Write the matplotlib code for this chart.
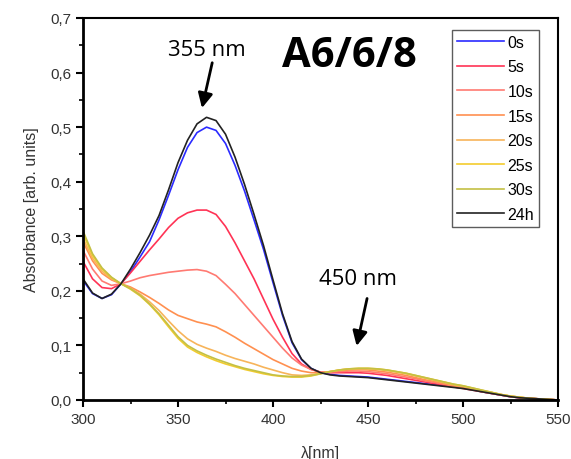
import numpy as np
import matplotlib.pyplot as plt
from matplotlib.ticker import MultipleLocator, FuncFormatter

wavelength = list(range(300, 555, 5))

labels = ['0s', '5s', '10s', '15s', '20s', '25s', '30s', '24h']
colors = ['#2b2bff', '#ff3355', '#ff7a72', '#ff9050', '#f7b45a', '#f3cc2e', '#c4c044', '#222222']

a_0s = [0.219, 0.195, 0.186, 0.193, 0.213, 0.235, 0.262, 0.290, 0.330, 0.375,
        0.422, 0.463, 0.490, 0.500, 0.494, 0.470, 0.430, 0.383, 0.330, 0.276,
        0.215, 0.155, 0.105, 0.074, 0.058, 0.050, 0.047, 0.045, 0.044, 0.043,
        0.042, 0.040, 0.038, 0.036, 0.034, 0.032, 0.030, 0.028, 0.026, 0.024,
        0.022, 0.019, 0.015, 0.012, 0.009, 0.006, 0.004, 0.003, 0.002, 0.001, 0.000]
a_5s = [0.254, 0.222, 0.206, 0.204, 0.213, 0.233, 0.254, 0.275, 0.295, 0.316,
        0.333, 0.343, 0.348, 0.348, 0.340, 0.318, 0.288, 0.255, 0.222, 0.185,
        0.148, 0.115, 0.085, 0.066, 0.056, 0.051, 0.050, 0.050, 0.050, 0.050,
        0.049, 0.047, 0.045, 0.042, 0.039, 0.036, 0.033, 0.030, 0.027, 0.024,
        0.021, 0.018, 0.015, 0.012, 0.009, 0.006, 0.004, 0.003, 0.002, 0.001, 0.000]
a_10s = [0.274, 0.240, 0.218, 0.210, 0.213, 0.218, 0.224, 0.228, 0.231, 0.234,
         0.236, 0.238, 0.239, 0.236, 0.228, 0.212, 0.195, 0.175, 0.155, 0.135,
         0.115, 0.095, 0.077, 0.064, 0.056, 0.051, 0.051, 0.052, 0.053, 0.053,
         0.052, 0.050, 0.048, 0.045, 0.042, 0.039, 0.035, 0.032, 0.029, 0.025,
         0.022, 0.019, 0.015, 0.012, 0.009, 0.006, 0.004, 0.003, 0.002, 0.001, 0.000]
a_15s = [0.290, 0.255, 0.232, 0.220, 0.213, 0.207, 0.198, 0.188, 0.177, 0.165,
         0.155, 0.149, 0.143, 0.139, 0.134, 0.125, 0.115, 0.104, 0.094, 0.084,
         0.074, 0.066, 0.058, 0.053, 0.050, 0.050, 0.052, 0.054, 0.055, 0.056,
         0.055, 0.053, 0.051, 0.048, 0.045, 0.041, 0.037, 0.034, 0.030, 0.026,
         0.023, 0.020, 0.016, 0.013, 0.010, 0.007, 0.005, 0.003, 0.002, 0.001, 0.000]
a_20s = [0.296, 0.260, 0.236, 0.222, 0.213, 0.205, 0.194, 0.180, 0.164, 0.145,
         0.127, 0.112, 0.102, 0.095, 0.089, 0.082, 0.076, 0.071, 0.066, 0.060,
         0.055, 0.050, 0.046, 0.045, 0.046, 0.049, 0.052, 0.055, 0.057, 0.057,
         0.057, 0.056, 0.054, 0.051, 0.048, 0.044, 0.040, 0.036, 0.032, 0.028,
         0.025, 0.021, 0.017, 0.014, 0.010, 0.007, 0.005, 0.003, 0.002, 0.001, 0.000]
a_25s = [0.305, 0.265, 0.240, 0.224, 0.213, 0.203, 0.191, 0.175, 0.156, 0.134,
         0.113, 0.097, 0.087, 0.079, 0.072, 0.066, 0.061, 0.056, 0.052, 0.048,
         0.045, 0.043, 0.042, 0.042, 0.044, 0.048, 0.052, 0.055, 0.057, 0.058,
         0.058, 0.057, 0.055, 0.052, 0.049, 0.045, 0.041, 0.037, 0.033, 0.029,
         0.026, 0.022, 0.018, 0.014, 0.010, 0.007, 0.005, 0.003, 0.002, 0.001, 0.000]
a_30s = [0.310, 0.268, 0.242, 0.225, 0.213, 0.204, 0.192, 0.176, 0.158, 0.137,
         0.116, 0.100, 0.090, 0.082, 0.075, 0.069, 0.063, 0.058, 0.054, 0.050,
         0.046, 0.044, 0.043, 0.043, 0.045, 0.048, 0.052, 0.055, 0.057, 0.058,
         0.058, 0.057, 0.055, 0.052, 0.049, 0.045, 0.041, 0.037, 0.033, 0.029,
         0.026, 0.022, 0.018, 0.014, 0.010, 0.007, 0.005, 0.003, 0.002, 0.001, 0.000]
a_24h = [0.222, 0.196, 0.186, 0.194, 0.213, 0.240, 0.270, 0.302, 0.338, 0.385,
         0.435, 0.476, 0.506, 0.518, 0.512, 0.487, 0.445, 0.395, 0.340, 0.283,
         0.220, 0.158, 0.107, 0.075, 0.058, 0.050, 0.046, 0.044, 0.043, 0.042,
         0.041, 0.039, 0.037, 0.035, 0.033, 0.031, 0.029, 0.027, 0.025, 0.023,
         0.021, 0.018, 0.015, 0.012, 0.009, 0.006, 0.004, 0.003, 0.002, 0.001, 0.000]

series = [a_0s, a_5s, a_10s, a_15s, a_20s, a_25s, a_30s, a_24h]

fig = plt.figure(figsize=(5.71, 4.60), dpi=100)
ax = fig.add_axes([0.1454, 0.1283, 0.8319, 0.8304])

for y, lab, c in zip(series, labels, colors):
    ax.plot(wavelength, y, color=c, lw=1.2, label=lab)

ax.set_xlim(300, 550)
ax.set_ylim(0, 0.7)
ax.xaxis.set_major_locator(MultipleLocator(50))
ax.xaxis.set_minor_locator(MultipleLocator(25))
ax.yaxis.set_major_locator(MultipleLocator(0.1))
ax.yaxis.set_minor_locator(MultipleLocator(0.05))
ax.yaxis.set_major_formatter(FuncFormatter(lambda v, p: f'{v:.1f}'.replace('.', ',')))

for s in ['left', 'bottom']:
    ax.spines[s].set_linewidth(2.0)
for s in ['top', 'right']:
    ax.spines[s].set_linewidth(1.5)
ax.tick_params(which='major', direction='out', length=5, width=1.5,
               labelsize=11, labelcolor='#333333')
ax.tick_params(which='minor', direction='out', length=3, width=1.2)

ax.set_xlabel('λ[nm]', fontsize=11.5, color='#333333', family='Liberation Sans', labelpad=14)
ax.set_ylabel('Absorbance [arb. units]', fontsize=11.5, color='#333333', family='Liberation Sans', labelpad=8)
for t in ax.get_xticklabels() + ax.get_yticklabels():
    t.set_family('Liberation Sans')

leg = ax.legend(loc='upper right', bbox_to_anchor=(0.96, 0.9686), frameon=True, fancybox=False,
                prop={'family': 'Liberation Sans', 'size': 11.5}, handlelength=3.0,
                handletextpad=0.2, labelspacing=0.6, borderpad=0.3, borderaxespad=0)
leg.get_frame().set_edgecolor('#333333')
leg.get_frame().set_linewidth(1.0)

ax.text(440, 0.632, 'A6/6/8', fontsize=30, fontweight='bold', family='Open Sans',
        ha='center', va='center')

ax.text(365, 0.643, '355 nm', fontsize=16, family='Open Sans', ha='center', va='center')
ax.annotate('', xy=(362.6, 0.535), xytext=(368, 0.618),
            arrowprops=dict(arrowstyle='-|>', color='black', lw=2, mutation_scale=22,
                            shrinkA=0, shrinkB=0))
ax.text(444.7, 0.222, '450 nm', fontsize=16, family='Open Sans', ha='center', va='center')
ax.annotate('', xy=(444, 0.099), xytext=(449.5, 0.186),
            arrowprops=dict(arrowstyle='-|>', color='black', lw=2, mutation_scale=22,
                            shrinkA=0, shrinkB=0))

fig.savefig('out.png', dpi=100)
